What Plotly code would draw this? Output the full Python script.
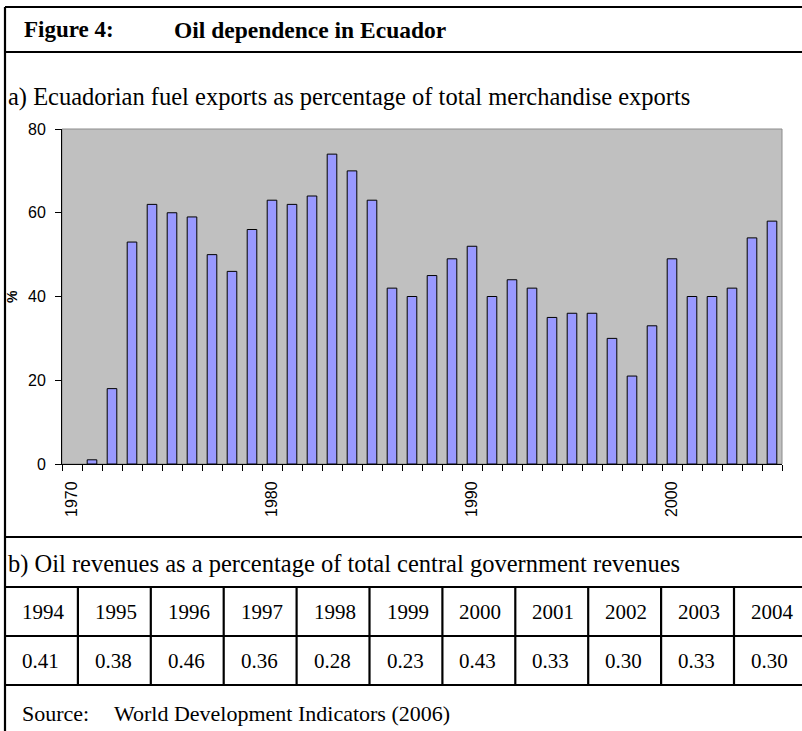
import plotly.graph_objects as go

# ---------------- data ----------------
years = list(range(1970, 2006))
fuel_share = [None, 1, 18, 53, 62, 60, 59, 50, 46, 56,
              63, 62, 64, 74, 70, 63, 42, 40, 45, 49,
              52, 40, 44, 42, 35, 36, 36, 30, 21, 33,
              49, 40, 40, 42, 54, 58]
decade_ticks = [1970, 1980, 1990, 2000]
decade_labels = ["1970", "1980", "1990", "2000"]
y_ticks = [0, 20, 40, 60, 80]

table_years = ["1994", "1995", "1996", "1997", "1998", "1999",
               "2000", "2001", "2002", "2003", "2004"]
oil_revenue = ["0.41", "0.38", "0.46", "0.36", "0.28", "0.23",
               "0.43", "0.33", "0.30", "0.33", "0.30"]

title_label = "Figure 4:"
title_text = "Oil dependence in Ecuador"
sub_a = "a) Ecuadorian fuel exports as percentage of total merchandise exports"
sub_b = "b) Oil revenues as a percentage of total central government revenues"
source_label = "Source:"
source_text = "World Development Indicators (2006)"

# ---------------- geometry (pixels) ----------------
FW, FH = 802, 731
L, R, T, B = 62, 782, 129, 464
PW, PH = R - L, B - T


def px(x):
    return (x - L) / PW


def py(y):
    return (B - y) / PH


SERIF = "Liberation Serif, Times New Roman, serif"
SANS = "Liberation Sans, Arial, sans-serif"

fig = go.Figure()
fig.add_trace(go.Bar(
    x=years, y=fuel_share,
    marker=dict(color="#9999FF", line=dict(color="#000000", width=1)),
    hoverinfo="x+y",
))

shapes = []
annotations = []

# plot-area frame (gray top/right)
shapes.append(dict(type="rect", xref="paper", yref="paper", x0=0, x1=1, y0=0, y1=1,
                   line=dict(color="#8c8c8c", width=1), layer="below"))

lw = 2.2
# outer box
shapes.append(dict(type="line", xref="paper", yref="paper",
                   x0=px(5), x1=px(5), y0=py(7), y1=py(740), line=dict(color="black", width=lw)))
shapes.append(dict(type="line", xref="paper", yref="paper",
                   x0=px(5), x1=px(810), y0=py(7), y1=py(7), line=dict(color="black", width=lw)))
# horizontal separators
for yy in [52, 537, 587, 636, 685]:
    shapes.append(dict(type="line", xref="paper", yref="paper",
                       x0=px(5), x1=px(810), y0=py(yy), y1=py(yy),
                       line=dict(color="black", width=lw)))
# table column lines
col_left = 5
col_w = 72.9
for i in range(1, len(table_years)):
    xx = col_left + i * col_w
    shapes.append(dict(type="line", xref="paper", yref="paper",
                       x0=px(xx), x1=px(xx), y0=py(587), y1=py(685),
                       line=dict(color="black", width=lw)))

# titles
annotations.append(dict(text="<b>" + title_label + "</b>", x=px(22), y=py(30),
                        xref="paper", yref="paper", xanchor="left", yanchor="middle",
                        showarrow=False, font=dict(family=SERIF, size=23, color="black")))
annotations.append(dict(text="<b>" + title_text + "</b>", x=px(172), y=py(30),
                        xref="paper", yref="paper", xanchor="left", yanchor="middle",
                        showarrow=False, font=dict(family=SERIF, size=23.5, color="black")))
annotations.append(dict(text=sub_a, x=px(6), y=py(97),
                        xref="paper", yref="paper", xanchor="left", yanchor="middle",
                        showarrow=False, font=dict(family=SERIF, size=24.5, color="black")))
annotations.append(dict(text=sub_b, x=px(6), y=py(564),
                        xref="paper", yref="paper", xanchor="left", yanchor="middle",
                        showarrow=False, font=dict(family=SERIF, size=24.5, color="black")))
annotations.append(dict(text=source_label, x=px(20), y=py(713),
                        xref="paper", yref="paper", xanchor="left", yanchor="middle",
                        showarrow=False, font=dict(family=SERIF, size=22, color="black")))
annotations.append(dict(text=source_text, x=px(112), y=py(713),
                        xref="paper", yref="paper", xanchor="left", yanchor="middle",
                        showarrow=False, font=dict(family=SERIF, size=22, color="black")))
# y-axis title
annotations.append(dict(text="<b>%</b>", x=px(12), y=py(297), textangle=-90,
                        xref="paper", yref="paper", xanchor="center", yanchor="middle",
                        showarrow=False, font=dict(family=SANS, size=14, color="black")))

# table cells
for i, (yr, val) in enumerate(zip(table_years, oil_revenue)):
    x0 = col_left + i * col_w + 15
    annotations.append(dict(text=yr, x=px(x0), y=py(612),
                            xref="paper", yref="paper", xanchor="left", yanchor="middle",
                            showarrow=False, font=dict(family=SERIF, size=21, color="black")))
    annotations.append(dict(text=val, x=px(x0), y=py(661),
                            xref="paper", yref="paper", xanchor="left", yanchor="middle",
                            showarrow=False, font=dict(family=SERIF, size=21, color="black")))

boundaries = [y - 0.5 for y in years] + [years[-1] + 0.5]

fig.update_layout(
    width=FW, height=FH,
    margin=dict(l=L, r=FW - R, t=T, b=FH - B, pad=0),
    paper_bgcolor="white", plot_bgcolor="#C0C0C0",
    bargap=0.52, showlegend=False,
    shapes=shapes, annotations=annotations,
    xaxis=dict(range=[boundaries[0], boundaries[-1]], tickmode="array",
               tickvals=decade_ticks, ticktext=decade_labels, tickangle=-90,
               ticks="outside", ticklen=10, tickcolor="rgba(0,0,0,0)",
               showline=True, linecolor="black", linewidth=1, showgrid=False,
               zeroline=False, tickfont=dict(family=SANS, size=16, color="black"),
               minor=dict(ticks="outside", ticklen=6, tickcolor="black", tickwidth=1,
                          tickvals=boundaries, showgrid=False)),
    yaxis=dict(range=[0, 80], tickmode="array", tickvals=y_ticks,
               ticks="outside", ticklen=6, tickcolor="black", ticklabelstandoff=6,
               showline=True, linecolor="black", linewidth=1, showgrid=False,
               zeroline=False, tickfont=dict(family=SANS, size=16, color="black")),
)

fig.write_html("out.html", config={"displayModeBar": False},
               post_script="document.body.style.margin='0px';document.body.style.overflow='hidden';")
